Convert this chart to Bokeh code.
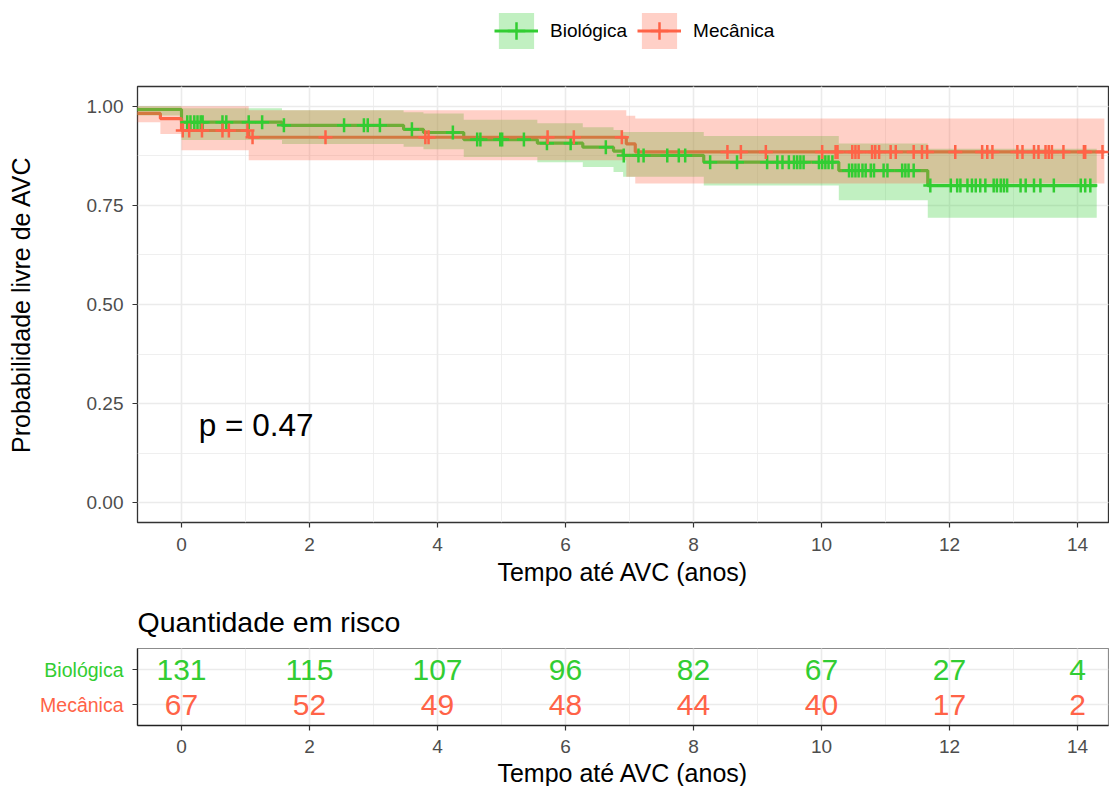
import numpy as np
from bokeh.plotting import figure
from bokeh.models import (Range1d, SingleIntervalTicker, FixedTicker, Legend,
                          LegendItem, PrintfTickFormatter)
from bokeh.layouts import column, row
from bokeh.embed import file_html
from bokeh.resources import INLINE
from bokeh.core.properties import value

GREEN = "#32CD32"
RED = "#FF6347"
FONT = "Liberation Sans"
TICK_COL = "#4D4D4D"
GRID_COL = "#EBEBEB"

# ---- Kaplan-Meier estimates (segment start times, survival, 95% CI) ----
bio_times = [-1.0, 0.0, 1.57, 3.47, 3.78, 4.41, 5.56, 6.27, 6.75, 6.90, 8.16, 10.27, 11.66]
bio_surv = [0.992, 0.960, 0.952, 0.942, 0.934, 0.916, 0.907, 0.897, 0.887, 0.876, 0.859, 0.838, 0.800]
bio_lower = [0.977, 0.915, 0.905, 0.898, 0.892, 0.872, 0.859, 0.847, 0.834, 0.822, 0.800, 0.763, 0.719]
bio_upper = [1.000, 0.995, 0.990, 0.985, 0.982, 0.966, 0.957, 0.947, 0.940, 0.935, 0.925, 0.906, 0.893]
bio_end = 14.30

mec_times = [-1.0, -0.33, 0.0, 1.05, 6.95, 7.09]
mec_surv = [0.982, 0.969, 0.939, 0.922, 0.905, 0.885]
mec_lower = [0.960, 0.930, 0.889, 0.864, 0.822, 0.805]
mec_upper = [1.000, 1.000, 1.000, 0.990, 0.976, 0.969]
mec_end = 14.42

# censored observations
bio_censor = [0.09, 0.14, 0.20, 0.25, 0.30, 0.33, 0.64, 0.70, 1.05, 1.26, 1.60, 2.54,
              2.85, 2.91, 3.10, 3.60, 4.24, 4.62, 4.67, 4.98, 5.01, 5.35, 5.71, 6.08,
              6.63, 6.91, 7.14, 7.22, 7.59, 7.77, 7.87, 8.26, 8.68, 9.15, 9.31, 9.39,
              9.49, 9.57, 9.62, 9.67, 9.72, 9.96, 10.01, 10.06, 10.11, 10.17, 10.43,
              10.48, 10.53, 10.58, 10.64, 10.69, 10.77, 10.82, 10.97, 11.03, 11.26,
              11.31, 11.36, 11.44, 11.70, 12.02, 12.12, 12.17, 12.28, 12.35, 12.41,
              12.48, 12.56, 12.69, 12.74, 12.80, 12.85, 12.90, 13.11, 13.19, 13.32,
              13.42, 13.63, 14.05, 14.12, 14.20]
mec_censor = [0.02, 0.12, 0.32, 0.64, 0.74, 1.03, 1.11, 2.25, 3.81, 3.86, 5.72, 6.13,
              6.88, 8.53, 8.74, 9.13, 10.01, 10.22, 10.25, 10.48, 10.53, 10.58, 10.79,
              10.84, 10.90, 11.08, 11.16, 11.44, 11.57, 11.65, 12.09, 12.51, 12.59,
              12.67, 13.06, 13.14, 13.32, 13.39, 13.50, 13.55, 13.60, 13.78, 14.10,
              14.12, 14.39]

# ---- number at risk ----
risk_times = [0, 2, 4, 6, 8, 10, 12, 14]
bio_risk = [131, 115, 107, 96, 82, 67, 27, 4]
mec_risk = [67, 52, 49, 48, 44, 40, 17, 2]

groups = ["Biológica", "Mecânica"]
colors = [GREEN, RED]
pval_text = "p = 0.47"
x_title = "Tempo até AVC (anos)"
y_title = "Probabilidade livre de AVC"
table_title = "Quantidade em risco"

X_MIN, X_MAX = -0.6875, 14.484
LEFT = 137
FRAME_W = 971


def step_xy(times, vals, end):
    return list(times) + [end], list(vals) + [vals[-1]]


def level_at(times, vals, ts):
    idx = np.searchsorted(np.asarray(times), np.asarray(ts), side="right") - 1
    return [vals[i] for i in idx]


def style_axes(fig):
    for ax in fig.axis:
        ax.major_label_text_font = FONT
        ax.major_label_text_font_size = "19px"
        ax.major_label_text_color = TICK_COL
        ax.axis_label_text_font = FONT
        ax.axis_label_text_font_size = "25px"
        ax.axis_label_text_font_style = "normal"
        ax.axis_label_text_color = "black"
        ax.major_tick_line_color = "#333333"
        ax.major_tick_line_width = 1.2
        ax.major_tick_out = 5
        ax.major_tick_in = 0
        ax.minor_tick_line_color = None


def bare_figure(**kw):
    f = figure(output_backend="svg", toolbar_location=None,
               x_axis_type=None, y_axis_type=None, **kw)
    f.outline_line_color = None
    f.grid.visible = False
    return f


# ================= legend strip =================
leg = bare_figure(frame_width=FRAME_W, frame_height=84, min_border_left=LEFT,
                  min_border_right=1, min_border_top=0, min_border_bottom=0,
                  x_range=Range1d(0, 1), y_range=Range1d(0, 1))
leg_items = []
for name, col in zip(groups, colors):
    # drawn outside the visible range: only their legend keys show
    band = leg.varea(x=[2, 3], y1=[2, 2], y2=[3, 3], fill_color=col, fill_alpha=0.3)
    ln = leg.line(x=[2, 3], y=[2, 2], line_color=col, line_width=3)
    mk = leg.scatter(x=[2], y=[2], marker="cross", size=14, line_color=col, line_width=2.5)
    leg_items.append(LegendItem(label=name, renderers=[band, ln, mk]))
legend = Legend(items=leg_items, orientation="horizontal", location=(357, 31))
legend.label_text_font = FONT
legend.label_text_font_size = "19px"
legend.label_text_color = "black"
legend.glyph_width = 44
legend.glyph_height = 45
legend.label_standoff = 12
legend.spacing = 10
legend.padding = 0
legend.margin = 0
legend.border_line_color = None
legend.background_fill_alpha = 0
leg.add_layout(legend, "center")

# ================= survival panel =================
p = figure(frame_width=FRAME_W, frame_height=436,
           x_range=Range1d(X_MIN, X_MAX), y_range=Range1d(-0.05, 1.05),
           min_border_left=LEFT, min_border_right=1, min_border_top=2,
           min_border_bottom=76, output_backend="svg", toolbar_location=None,
           background_fill_color="white", border_fill_color="white")
p.outline_line_color = "#333333"
p.outline_line_width = 1.3

p.xaxis.ticker = SingleIntervalTicker(interval=2, num_minor_ticks=2)
p.yaxis.ticker = SingleIntervalTicker(interval=0.25, num_minor_ticks=2)
p.yaxis.formatter = PrintfTickFormatter(format="%.2f")
p.xaxis.axis_label = x_title
p.yaxis.axis_label = y_title
p.axis.axis_line_color = None
style_axes(p)
p.xaxis.major_label_standoff = 10
p.xaxis.axis_label_standoff = 4
p.yaxis.major_label_standoff = 9
p.yaxis.axis_label_standoff = 49

p.grid.grid_line_color = GRID_COL
p.grid.grid_line_width = 1.6
p.grid.minor_grid_line_color = GRID_COL
p.grid.minor_grid_line_width = 0.8

bx, by = step_xy(bio_times, bio_surv, bio_end)
mx, my = step_xy(mec_times, mec_surv, mec_end)
_, blo = step_xy(bio_times, bio_lower, bio_end)
_, bhi = step_xy(bio_times, bio_upper, bio_end)
_, mlo = step_xy(mec_times, mec_lower, mec_end)
_, mhi = step_xy(mec_times, mec_upper, mec_end)

# curves first, confidence bands over them, censor marks on top
p.step(bx, by, mode="after", line_color=GREEN, line_width=3.2)
p.step(mx, my, mode="after", line_color=RED, line_width=3.2)
p.varea_step(x=bx, y1=blo, y2=bhi, step_mode="after", fill_color=GREEN, fill_alpha=0.3)
p.varea_step(x=mx, y1=mlo, y2=mhi, step_mode="after", fill_color=RED, fill_alpha=0.3)
p.scatter(bio_censor, level_at(bio_times, bio_surv, bio_censor),
          marker="cross", size=14, line_color=GREEN, line_width=2.5)
p.scatter(mec_censor, level_at(mec_times, mec_surv, mec_censor),
          marker="cross", size=14, line_color=RED, line_width=2.5)

p.text(x=[0.27], y=[0.195], text=[pval_text], text_font=value(FONT),
       text_font_size="31.5px", text_align="left", text_baseline="middle",
       text_color="black")

# ================= risk table heading =================
head = bare_figure(frame_width=FRAME_W, frame_height=44, min_border_left=LEFT,
                   min_border_right=1, min_border_top=0, min_border_bottom=0,
                   x_range=Range1d(0, FRAME_W), y_range=Range1d(0, 44))
head.text(x=[0], y=[21], text=[table_title], text_font=value(FONT),
          text_font_size="28.5px", text_color="black",
          text_align="left", text_baseline="middle")

# ================= risk table =================
rows_y = [2, 1]

lab = bare_figure(frame_width=LEFT - 12, frame_height=77,
                  min_border_left=0, min_border_right=0,
                  min_border_top=6, min_border_bottom=61,
                  x_range=Range1d(0, LEFT - 12), y_range=Range1d(0.4, 2.6))
lab.text(x=[123, 123], y=rows_y, text=groups, text_color=colors,
         text_font=value(FONT), text_font_size="19.5px",
         text_align="right", text_baseline="middle")

r = figure(frame_width=FRAME_W, frame_height=77,
           x_range=Range1d(X_MIN, X_MAX), y_range=Range1d(0.4, 2.6),
           min_border_left=12, min_border_right=1, min_border_top=6,
           min_border_bottom=61, output_backend="svg", toolbar_location=None,
           background_fill_color="white", border_fill_color="white")
r.outline_line_color = "#8C8C8C"
r.outline_line_width = 1.2

r.xaxis.ticker = SingleIntervalTicker(interval=2, num_minor_ticks=2)
r.yaxis.ticker = FixedTicker(ticks=rows_y)
r.yaxis.major_label_overrides = {1: "", 2: ""}
r.xaxis.axis_label = x_title
style_axes(r)
r.axis.axis_line_color = "#222222"
r.axis.axis_line_width = 1.3
r.xaxis.major_label_standoff = 9
r.xaxis.axis_label_standoff = 3
r.yaxis.major_label_standoff = 0

r.grid.grid_line_color = GRID_COL
r.grid.grid_line_width = 1.6
r.xgrid.minor_grid_line_color = GRID_COL
r.xgrid.minor_grid_line_width = 0.8

for y0, counts, col in zip(rows_y, [bio_risk, mec_risk], colors):
    r.text(x=risk_times, y=[y0] * len(risk_times), text=[str(c) for c in counts],
           text_font=value(FONT), text_font_size="30px", text_color=col,
           text_align="center", text_baseline="middle")

layout = column(leg, p, head, row(lab, r, spacing=0), spacing=0)
open("out.html", "w").write(file_html(layout, INLINE))
